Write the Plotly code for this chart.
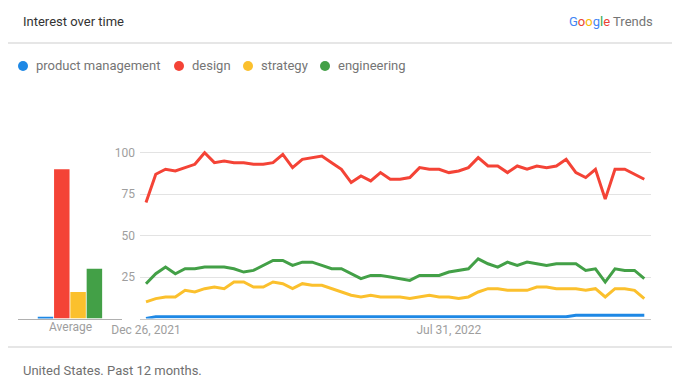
import pandas as pd
import plotly.graph_objects as go

# ---------------- data ----------------
series_names = ["product management", "design", "strategy", "engineering"]
series_colors = ["#1E88E5", "#F44336", "#FBC02D", "#43A047"]

week_start = "2021-12-26"
n_weeks = 52

product_management = [0, 1, 1, 1, 1, 1, 1, 1, 1, 1,
                      1, 1, 1, 1, 1, 1, 1, 1, 1, 1,
                      1, 1, 1, 1, 1, 1, 1, 1, 1, 1,
                      1, 1, 1, 1, 1, 1, 1, 1, 1, 1,
                      1, 1, 1, 1, 2, 2, 2, 2, 2, 2,
                      2, 2]
design = [70, 87, 90, 89, 91, 93, 100, 94, 95, 94,
          94, 93, 93, 94, 99, 91, 96, 97, 98, 94,
          90, 82, 86, 83, 88, 84, 84, 85, 91, 90,
          90, 88, 89, 91, 97, 92, 92, 88, 92, 90,
          92, 91, 92, 96, 88, 85, 90, 72, 90, 90,
          87, 84]
strategy = [10, 12, 13, 13, 17, 16, 18, 19, 18, 22,
            22, 19, 19, 22, 21, 18, 21, 20, 20, 18,
            16, 14, 13, 14, 13, 13, 13, 12, 13, 14,
            13, 13, 12, 13, 16, 18, 18, 17, 17, 17,
            19, 19, 18, 18, 18, 17, 18, 13, 18, 18,
            17, 12]
engineering = [21, 27, 31, 27, 30, 30, 31, 31, 31, 30,
               28, 29, 32, 35, 35, 32, 34, 34, 32, 30,
               30, 27, 24, 26, 26, 25, 24, 23, 26, 26,
               26, 28, 29, 30, 36, 33, 31, 34, 32, 34,
               33, 32, 33, 33, 33, 29, 30, 22, 30, 29,
               29, 24]

averages = [1, 90, 16, 30]
average_label = "Average"

x_tick_dates = ["2021-12-26", "2022-07-31"]
x_tick_labels = ["Dec 26, 2021", "Jul 31, 2022"]
y_tick_values = [25, 50, 75, 100]

title_text = "Interest over time"
footer_text = "United States. Past 12 months."

# ---------------- layout helpers (screen pixels) ----------------
# The page body has an 8px default margin, so the figure is drawn at (8, 8).
OFF = 8
FW, FH = 680 - OFF, 391 - OFF
FONT = "Roboto, 'Noto Sans', Arial, sans-serif"


def px_x(p):
    return (p - OFF) / FW


def px_y(p):
    return 1 - (p - OFF) / FH


dates = pd.date_range(week_start, periods=n_weeks, freq="7D")
all_series = [product_management, design, strategy, engineering]

# line plot geometry (screen px)
plot_left, plot_right = 140, 651
first_pt, last_pt = 146, 644.3
px_per_day = (last_pt - first_pt) / ((dates[-1] - dates[0]).days)
x_range = [dates[0] - pd.Timedelta(days=(first_pt - plot_left) / px_per_day),
           dates[-1] + pd.Timedelta(days=(plot_right - last_pt) / px_per_day)]

y0_px, y100_px = 318.5, 152.7
px_per_unit = (y0_px - y100_px) / 100
y_top_val = 105
y_top_px = y0_px - y_top_val * px_per_unit
y_domain = [px_y(y0_px), px_y(y_top_px)]

fig = go.Figure()

# Average bars
fig.add_trace(go.Bar(
    x=list(range(len(series_names))), y=averages,
    marker=dict(color=series_colors, line=dict(width=0)),
    xaxis="x", yaxis="y", showlegend=False, hoverinfo="y",
))

# Lines
for name, vals, col in zip(series_names, all_series, series_colors):
    fig.add_trace(go.Scatter(
        x=dates, y=vals, mode="lines", name=name,
        line=dict(color=col, width=3, shape="linear"),
        xaxis="x2", yaxis="y2", showlegend=False,
    ))

# bar axis geometry
bar_left, bar_right = 18, 122
bar_pitch = 16.3
first_bar_center = 45.5
bx0 = 0 - (first_bar_center - bar_left) / bar_pitch
bx1 = bx0 + (bar_right - bar_left) / bar_pitch

tick_font = dict(family=FONT, size=12, color="#9E9E9E")

fig.update_layout(
    width=FW, height=FH,
    margin=dict(l=0, r=0, t=0, b=0, pad=0, autoexpand=False),
    paper_bgcolor="white", plot_bgcolor="white",
    bargap=0.05,
    font=dict(family=FONT),
    xaxis=dict(domain=[px_x(bar_left), px_x(bar_right)], range=[bx0, bx1],
               showgrid=False, zeroline=False, showticklabels=False, automargin=False,
               showline=True, linecolor="#B0B0B0", linewidth=1, fixedrange=True),
    yaxis=dict(domain=y_domain, range=[0, y_top_val], showgrid=False, automargin=False,
               zeroline=False, showticklabels=False, fixedrange=True),
    xaxis2=dict(domain=[px_x(plot_left), px_x(plot_right)], range=x_range,
                type="date", anchor="y2", automargin=False,
                tickvals=x_tick_dates, ticktext=x_tick_labels,
                tickfont=tick_font, showgrid=False, zeroline=False,
                showline=True, linecolor="#C8C8C8", linewidth=1, ticks=""),
    yaxis2=dict(domain=y_domain, range=[0, y_top_val], anchor="x2", automargin=False,
                tickvals=y_tick_values, tickfont=tick_font,
                showgrid=True, gridcolor="#E3E3E3", gridwidth=1,
                zeroline=False, showline=False, ticks="",
                ticklabelstandoff=4),
)

annotations = []
shapes = []

# header & footer
annotations.append(dict(text=title_text, x=px_x(21), y=px_y(21), xref="paper", yref="paper",
                        xanchor="left", yanchor="middle", showarrow=False,
                        font=dict(family=FONT, size=13, color="#333333")))
google_letters = [("G", "#4285F4"), ("o", "#EA4335"), ("o", "#FBBC05"),
                  ("g", "#4285F4"), ("l", "#34A853"), ("e", "#EA4335")]
logo = "".join(f"<span style='color:{c}'>{ch}</span>" for ch, c in google_letters)
logo += "<span style='color:#757575'> Trends</span>"
annotations.append(dict(text=logo, x=px_x(655), y=px_y(21), xref="paper", yref="paper",
                        xanchor="right", yanchor="middle", showarrow=False,
                        font=dict(family=FONT, size=13)))
annotations.append(dict(text=footer_text, x=px_x(21), y=px_y(370), xref="paper", yref="paper",
                        xanchor="left", yanchor="middle", showarrow=False,
                        font=dict(family=FONT, size=13, color="#707070")))
annotations.append(dict(text=average_label, x=px_x(70.5), y=px_y(327), xref="paper", yref="paper",
                        xanchor="center", yanchor="middle", showarrow=False,
                        font=dict(family=FONT, size=12, color="#9E9E9E")))

for yy in (43, 347):
    shapes.append(dict(type="line", xref="paper", yref="paper", x0=px_x(0), x1=1,
                       y0=px_y(yy), y1=px_y(yy), line=dict(color="#E6E6E6", width=2)))

# legend
legend_dots = [23, 179, 248, 325]
for name, col, dx in zip(series_names, series_colors, legend_dots):
    r = 5
    shapes.append(dict(type="circle", xref="paper", yref="paper",
                       x0=px_x(dx - r), x1=px_x(dx + r), y0=px_y(66 + r), y1=px_y(66 - r),
                       fillcolor=col, line=dict(width=0)))
    annotations.append(dict(text=name, x=px_x(dx + 11), y=px_y(66), xref="paper", yref="paper",
                            xanchor="left", yanchor="middle", showarrow=False,
                            font=dict(family=FONT, size=13, color="#757575")))

fig.update_layout(annotations=annotations, shapes=shapes)

fig.write_html("out.html")
